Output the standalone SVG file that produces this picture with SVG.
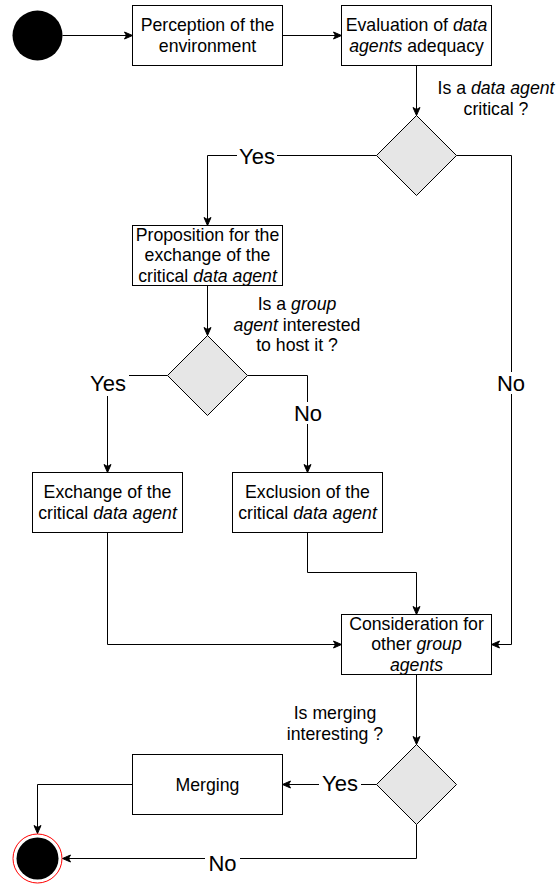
<svg xmlns="http://www.w3.org/2000/svg" width="558" height="886" viewBox="0 0 558 886">
<style>
text{font-family:"Liberation Sans",Arial,Helvetica,sans-serif;fill:#000}
.t{font-size:17.7px;text-anchor:middle}
.yn{font-size:22px;text-anchor:middle}
.box{fill:#fff;stroke:#000;stroke-width:1}
.dia{fill:#e6e6e6;stroke:#000;stroke-width:1}
.edge{fill:none;stroke:#000;stroke-width:1;marker-end:url(#arr)}
.lbg{fill:#fff}
.i{font-style:italic}
</style>
<defs>
<marker id="arr" markerUnits="userSpaceOnUse" markerWidth="10" markerHeight="10" viewBox="0 0 10 10" refX="9" refY="5" orient="auto">
<path d="M1,1.5 L9,5 L1,8.5 L3,5 z" fill="#000" stroke="#000" stroke-width="1"/>
</marker>
</defs>
<g id="connectors">
<path class="edge" d="M62.5,35.5 H132.5"/>
<path class="edge" d="M282.5,35.5 H341.5"/>
<path class="edge" d="M416.5,65.5 V115.5"/>
<path class="edge" d="M376.5,155.5 H207.5 V225.5"/>
<path class="edge" d="M456.5,155.5 H511.5 V644.5 H491.5"/>
<path class="edge" d="M207.5,285.5 V335.5"/>
<path class="edge" d="M167.5,375.5 H107.5 V472.5"/>
<path class="edge" d="M247.5,375.5 H307.5 V472.5"/>
<path class="edge" d="M107.5,532.5 V644.5 H341.5"/>
<path class="edge" d="M307.5,532.5 V572.5 H416.5 V614.5"/>
<path class="edge" d="M416.5,674.5 V744.5"/>
<path class="edge" d="M376.5,784.5 H282.5"/>
<path class="edge" d="M132.5,784.5 H37.5 V833.5"/>
<path class="edge" d="M416.5,824.5 V858.5 H62.5"/>
<g id="edge-labels">
<rect class="lbg" x="237" y="145" width="40" height="22"/>
<text class="yn" x="257" y="164">Yes</text>
<rect class="lbg" x="488" y="372" width="46" height="22"/>
<text class="yn" x="511" y="391">No</text>
<rect class="lbg" x="87" y="373" width="42" height="23"/>
<text class="yn" x="108" y="391">Yes</text>
<rect class="lbg" x="291" y="402" width="34" height="22"/>
<text class="yn" x="308" y="421">No</text>
<rect class="lbg" x="319" y="773" width="42" height="22"/>
<text class="yn" x="340" y="791">Yes</text>
<rect class="lbg" x="205" y="852" width="35" height="22"/>
<text class="yn" x="222.5" y="871">No</text>
</g>
</g>
<g id="start"><circle cx="37.5" cy="35.5" r="25" fill="#000"/></g>
<g id="perception">
<rect class="box" x="132.5" y="5.5" width="150" height="60"/>
<text class="t" x="207.5" y="31">Perception of the</text>
<text class="t" x="207.5" y="52">environment</text>
</g>
<g id="evaluation">
<rect class="box" x="341.5" y="5.5" width="150" height="60"/>
<text class="t" x="416.5" y="31">Evaluation of <tspan class="i">data</tspan></text>
<text class="t" x="416.5" y="52"><tspan class="i">agents</tspan> adequacy</text>
</g>
<g id="decision-critical">
<polygon class="dia" points="416.5,115.5 456.5,155.5 416.5,195.5 376.5,155.5"/>
<text class="t" x="496" y="94">Is a <tspan class="i">data agent</tspan></text>
<text class="t" x="496" y="115">critical ?</text>
</g>
<g id="proposition">
<rect class="box" x="132.5" y="225.5" width="150" height="60"/>
<text class="t" x="207.5" y="240.5">Proposition for the</text>
<text class="t" x="207.5" y="261">exchange of the</text>
<text class="t" x="207.5" y="281.5">critical <tspan class="i">data agent</tspan></text>
</g>
<g id="decision-group">
<polygon class="dia" points="207.5,335.5 247.5,375.5 207.5,415.5 167.5,375.5"/>
<text class="t" x="297" y="310">Is a <tspan class="i">group</tspan></text>
<text class="t" x="297" y="330.5"><tspan class="i">agent</tspan> interested</text>
<text class="t" x="297" y="350.5">to host it ?</text>
</g>
<g id="exchange">
<rect class="box" x="32.5" y="472.5" width="150" height="60"/>
<text class="t" x="107.5" y="498">Exchange of the</text>
<text class="t" x="107.5" y="519">critical <tspan class="i">data agent</tspan></text>
</g>
<g id="exclusion">
<rect class="box" x="232.5" y="472.5" width="150" height="60"/>
<text class="t" x="307.5" y="498">Exclusion of the</text>
<text class="t" x="307.5" y="519">critical <tspan class="i">data agent</tspan></text>
</g>
<g id="consideration">
<rect class="box" x="341.5" y="614.5" width="150" height="60"/>
<text class="t" x="416.5" y="629.5">Consideration for</text>
<text class="t" x="416.5" y="650">other <tspan class="i">group</tspan></text>
<text class="t" x="416.5" y="670.5"><tspan class="i">agents</tspan></text>
</g>
<g id="decision-merging">
<polygon class="dia" points="416.5,744.5 456.5,784.5 416.5,824.5 376.5,784.5"/>
<text class="t" x="335" y="719">Is merging</text>
<text class="t" x="335" y="740">interesting ?</text>
</g>
<g id="merging">
<rect class="box" x="132.5" y="754.5" width="150" height="60"/>
<text class="t" x="207.5" y="790.5">Merging</text>
</g>
<g id="end">
<circle cx="37.5" cy="858.5" r="24.5" fill="#fff" stroke="#ff0000" stroke-width="1"/>
<circle cx="37.5" cy="858.5" r="21" fill="#000"/>
</g>
</svg>
